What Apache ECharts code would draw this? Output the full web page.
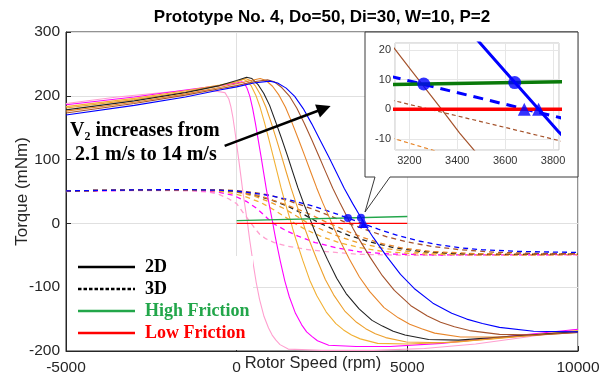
<!DOCTYPE html>
<html><head><meta charset="utf-8">
<script src="https://cdn.jsdelivr.net/npm/echarts@6/dist/echarts.min.js"></script>
<style>html,body{margin:0;padding:0;background:#fff}#c{width:611px;height:379px}</style>
</head><body><div id="c"></div>
<script>
// ---- data (rpm, mNm) ----
const curveNames = ['2.1 m/s','v2','v3','v4','v5','v6','v7','14 m/s'];
const pink2D = [[-5000,188],[-3500,198],[-2000,206],[-1200,209],[-700,208],[-344,205],[-290,202],[-230,195],[-170,183],[-110,166],[-50,144],[10,120],[70,96],[123,74],[178,51],[238,29],[286,12],[320,0],[340,-9],[382,-26],[478,-61],[574,-93],[670,-119],[802,-146],[934,-164],[1040,-175],[1150,-183],[1270,-190],[1510,-197],[2500,-199],[4000,-199],[5500,-196],[7000,-189],[8500,-178],[10000,-166]];
const magenta2D = [[-5000,186],[-3000,198],[-1500,209],[-500,216],[0,220],[148,222],[222,220],[304,212],[387,199],[469,180],[552,156],[634,130],[717,104],[789,80],[865,55],[948,31],[1014,12.7],[1060,0],[1088,-8.7],[1146,-25],[1278,-59],[1410,-90],[1542,-115],[1723,-141],[1905,-159],[2050,-170],[2202,-177],[2367,-184],[2697,-191],[3500,-193],[4500,-193],[6000,-188],[8000,-177],[10000,-166]];
const yellow2D = [[-5000,183],[-3000,196],[-1500,208],[-500,217],[0,222],[190,226],[305,223],[432,215],[560,201],[687,182],[815,158],[942,132],[1070,105],[1182,81],[1299,56],[1427,31],[1529,13],[1600,0],[1643,-8.6],[1733,-24.5],[1937,-58],[2141,-89],[2345,-113],[2625,-139],[2906,-157],[3130,-167],[3365,-175],[3620,-181],[4130,-188],[5000,-189],[6500,-186],[8000,-178],[10000,-168]];
const orange2D = [[-5000,181],[-3000,194],[-1500,206],[-500,216],[0,222],[263,227],[401,224],[553,215],[706,201],[858,182],[1011,158],[1163,132],[1316,105],[1450,81],[1590,56],[1743,31],[1865,13],[1950,0],[2002,-8.5],[2109,-24],[2353,-57],[2597,-88],[2841,-112],[3176,-138],[3512,-155],[3780,-165],[4061,-173],[4366,-179],[4976,-186],[6000,-187],[7500,-181],[10000,-169]];
const black2D = [[-5000,178],[-3000,192],[-1500,205],[-500,216],[0,224],[292,229],[447,227],[620,218],[792,204],[965,185],[1137,160],[1310,134],[1482,107],[1634,82],[1793,56],[1965,31],[2103,13],[2200,0],[2259,-8.3],[2379,-24],[2655,-56],[2931,-86],[3207,-110],[3587,-134],[3966,-152],[4270,-161],[4587,-169],[4932,-175],[5622,-182],[6500,-183],[8000,-177],[10000,-170]];
const darkOrange2D = [[-5000,176],[-3000,190],[-1500,203],[-500,213],[0,219],[689,227],[860,224],[1050,215],[1240,201],[1430,182],[1620,158],[1810,132],[2000,105],[2167,81],[2342,56],[2532,31],[2684,13],[2790,0],[2855,-8.1],[2988,-23],[3292,-55],[3596,-84],[3900,-107],[4318,-132],[4736,-148],[5070,-158],[5420,-165],[5800,-172],[6560,-178],[8000,-178],[10000,-171]];
const brown2D = [[-5000,173],[-3000,188],[-1500,201],[-500,211],[0,216],[500,222],[902,225],[1100,222],[1320,213],[1540,200],[1760,181],[1980,157],[2200,131],[2420,104],[2613,80],[2816,55],[3036,31],[3212,12.7],[3335,0],[3410,-8],[3564,-22.7],[3916,-53.6],[4268,-82],[4620,-105],[5104,-129],[5588,-145],[5975,-155],[6380,-162],[6820,-168],[7700,-174],[8800,-175],[10000,-171]];
const blue2D = [[-5000,170],[-3000,185],[-1500,198],[-500,209],[0,214],[500,220],[975,223],[1200,220],[1450,212],[1700,199],[1950,180],[2200,156],[2450,130],[2700,104],[2920,80],[3150,55],[3400,31],[3600,12.7],[3740,0],[3825,-7.7],[4000,-22],[4400,-52],[4800,-80],[5200,-102],[5750,-125],[6300,-141],[6740,-150],[7200,-157],[7700,-163],[8700,-169],[10000,-170]];

const pink3D = [[-5000,50],[-3000,51.5],[-1800,51.5],[-1200,50.5],[-800,49],[-500,45],[-250,39],[0,31],[200,16],[400,2],[550,-9],[675,-17],[850,-24],[1100,-30],[1500,-36],[2140,-41.5],[2800,-45],[3600,-48.5],[5000,-50],[7500,-50],[10000,-49.5]];
const magenta3D = [[-5000,50.5],[-3000,52],[-1500,52],[-900,51],[-500,48.5],[-100,44],[300,34],[600,23],[900,8],[1100,-1],[1400,-10],[1800,-20],[2300,-30],[2900,-38],[3600,-44.5],[4500,-48],[6000,-49.5],[10000,-49]];
const yellow3D = [[-5000,51],[-3000,52.5],[-1500,52.5],[-800,51.5],[-300,49],[200,43],[700,33],[1100,21],[1450,9],[1700,0],[2000,-9],[2500,-21],[3000,-30],[3600,-38],[4300,-44],[5200,-47.5],[7000,-49.5],[10000,-49]];
const orange3D = [[-5000,51],[-3000,52.5],[-1500,53],[-500,51.5],[0,49],[500,43],[1000,33],[1400,23],[1800,10],[2100,0],[2500,-10],[3000,-20.5],[3600,-31],[4300,-39],[5200,-45],[6500,-48.5],[8000,-49.5],[10000,-48.5]];
const black3D = [[-5000,51],[-3000,52.5],[-1500,53],[-500,52],[0,50],[500,45],[1000,37],[1500,27],[1900,16],[2200,7],[2450,0],[2800,-8.5],[3300,-19],[3900,-29],[4600,-38],[5400,-44],[6500,-47.5],[8000,-48.5],[10000,-48]];
const darkOrange3D = [[-5000,51],[-3000,52.5],[-1500,53],[-500,52],[0,50.5],[700,43],[1300,32],[1800,22],[2200,13],[2500,5],[2750,-0.6],[3000,-6.6],[3300,-13.8],[3700,-22],[4200,-31],[4900,-39],[5700,-44],[7000,-47.5],[10000,-48]];
const brown3D = [[-5000,51],[-3000,52.5],[-1500,53],[-500,52.5],[0,51.5],[500,48.5],[1000,44],[1600,34],[2200,23],[2750,11.5],[3140,2.8],[3600,-6.1],[3900,-12],[4400,-21],[5000,-29],[5700,-36],[6500,-41],[7500,-45],[8700,-47],[10000,-47.5]];
const blue3D = [[-5000,51],[-3000,52.5],[-1500,53],[-500,52],[0,50.5],[500,47.5],[1083,42.5],[1696,35],[2308,26],[2921,15],[3533,3],[4146,-9],[4758,-19.6],[5371,-28],[5983,-34],[6596,-38.5],[7208,-41.4],[8433,-44.2],[10000,-45.5]];

const frictionHigh = [[0,4.2],[5000,10.8]];
const frictionLow = [[0,0],[5000,0]];
const crossCircles = [[3260,8.5],[3640,9.0]];
const crossTriangles = [[3680,0],[3740,0]];
const arrowFromTo = [[-352,121.5],[2560,180]];

const mainXTicks = [-5000,0,5000,10000];
const mainYTicks = [-200,-100,0,100,200,300];
const legendLabels = ['2D','3D','High Friction','Low Friction'];

// ---- styles ----
const curveColors = ['#ff9fcf','#ff00ff','#f2b134','#eda02d','#222222','#e8862a','#a5532c','#0000ff'];
const curves2D = [pink2D,magenta2D,yellow2D,orange2D,black2D,darkOrange2D,brown2D,blue2D];
const curves3D = [pink3D,magenta3D,yellow3D,orange3D,black3D,darkOrange3D,brown3D,blue3D];

const chart = echarts.init(document.getElementById('c'), null, {width:611, height:379});
const tickColor = '#262626';
const plainFmt = v => String(v);
const series = [];
curves3D.forEach((d,i)=>series.push({type:'line', name:curveNames[i]+' 3D', xAxisIndex:0, yAxisIndex:0, data:d, symbol:'none', silent:true, z:2,
  lineStyle:{color:curveColors[i], width:1.3, type:[5,4]}}));
curves2D.forEach((d,i)=>series.push({type:'line', name:curveNames[i]+' 2D', xAxisIndex:0, yAxisIndex:0, data:d, symbol:'none', silent:true, z:2,
  lineStyle:{color:curveColors[i], width:1.1}}));
series.push({type:'line', name:'High Friction', xAxisIndex:0, yAxisIndex:0, data:frictionHigh, symbol:'none', silent:true, z:3, lineStyle:{color:'#22a64a', width:1.3}});
series.push({type:'line', name:'Low Friction', xAxisIndex:0, yAxisIndex:0, data:frictionLow, symbol:'none', silent:true, z:3, lineStyle:{color:'#ff0000', width:1.3}});
series.push({type:'scatter', name:'m1', xAxisIndex:0, yAxisIndex:0, data:crossCircles, symbol:'circle', symbolSize:8, itemStyle:{color:'#0000ff'}, z:4, silent:true});
series.push({type:'scatter', name:'m2', xAxisIndex:0, yAxisIndex:0, data:crossTriangles, symbol:'triangle', symbolSize:9, itemStyle:{color:'#0000ff'}, z:4, silent:true});
series.push({type:'line', name:'arrow', xAxisIndex:0, yAxisIndex:0, data:[], symbol:'none', z:5,
  markLine:{silent:true, symbol:['none','triangle'], symbolSize:14, label:{show:false}, animation:false,
    lineStyle:{color:'#000', width:2.6, type:'solid'},
    data:[[{coord:arrowFromTo[0]},{coord:arrowFromTo[1]}]]}});
// inset
const ins = {xAxisIndex:1, yAxisIndex:1, symbol:'none', silent:true, z:6};
series.push(Object.assign({type:'line', name:'i-o3', data:darkOrange3D, lineStyle:{color:'#e8862a', width:1.2, type:[4,3]}}, ins));
series.push(Object.assign({type:'line', name:'i-b3', data:brown3D, lineStyle:{color:'#a5532c', width:1.2, type:[4,3]}}, ins));
series.push(Object.assign({type:'line', name:'i-b2', data:brown2D, lineStyle:{color:'#a5532c', width:1.2}}, ins));
series.push(Object.assign({type:'line', name:'i-bl3', data:blue3D, lineStyle:{color:'#0000ff', width:3, type:[10,7]}}, ins));
series.push(Object.assign({type:'line', name:'i-g', data:frictionHigh, lineStyle:{color:'#0a7a0a', width:3.5}}, ins));
series.push(Object.assign({type:'line', name:'i-r', data:frictionLow, lineStyle:{color:'#ff0000', width:3.5}}, ins));
series.push(Object.assign({type:'line', name:'i-bl2', data:blue2D, lineStyle:{color:'#0000ff', width:3}}, ins));
series.push({type:'scatter', name:'i-m1', xAxisIndex:1, yAxisIndex:1, data:crossCircles, symbol:'circle', symbolSize:13, itemStyle:{color:'#0000ff'}, z:7, silent:true});
series.push({type:'scatter', name:'i-m2', xAxisIndex:1, yAxisIndex:1, data:crossTriangles, symbol:'triangle', symbolSize:13, itemStyle:{color:'#0000ff'}, z:7, silent:true});

const legendColors = ['#000','#000','#22a64a','#ff0000'];
const legendDash = [null,[3.5,2],null,null];
const legendRows = [267,289,311,333];
const legendGraphics = [{type:'rect', z:3, silent:true, shape:{x:67, y:256, width:186, height:94}, style:{fill:'#fff'}}];
legendLabels.forEach((t,i)=>{
  legendGraphics.push({type:'line', z:4, silent:true, shape:{x1:78, y1:legendRows[i], x2:135, y2:legendRows[i]},
    style:{stroke:legendColors[i], lineWidth:2.5, lineDash:legendDash[i]}});
  legendGraphics.push({type:'text', z:4, silent:true, style:{x:145, y:legendRows[i], text:t, fill:legendColors[i],
    font:'bold 18px "Liberation Serif"', align:'left', verticalAlign:'middle'}});
});

const option = {
  animation:false,
  backgroundColor:'#fff',
  grid:[
    {left:66, right:33, top:32, bottom:28, show:true, borderColor:'#262626', borderWidth:1, z:0, containLabel:false, outerBoundsMode:'none'},
    {left:395, top:43, width:164, height:107, show:true, borderColor:'#c4c4c4', borderWidth:1, backgroundColor:'#fff', z:2, containLabel:false, outerBoundsMode:'none'}
  ],
  xAxis:[
    {gridIndex:0, type:'value', min:mainXTicks[0], max:mainXTicks[mainXTicks.length-1], interval:5000,
      name:'Rotor Speed (rpm)', nameLocation:'middle', nameGap:4, nameMoveOverlap:false,
      nameTextStyle:{fontFamily:'Liberation Sans', fontSize:16.5, color:tickColor, padding:[0,18,0,0]},
      axisLine:{show:true, onZero:false, lineStyle:{color:tickColor}}, axisTick:{show:true, inside:true, length:5, lineStyle:{color:tickColor}},
      axisLabel:{fontFamily:'Liberation Sans', fontSize:15.5, color:tickColor, margin:9, formatter:plainFmt, hideOverlap:false},
      splitLine:{show:true, lineStyle:{color:'#e0e0e0', width:1}}},
    {gridIndex:1, type:'value', min:3140, max:3825, splitNumber:3, z:3,
      axisLine:{show:false, onZero:false}, axisTick:{show:false},
      axisLabel:{fontFamily:'Liberation Sans', fontSize:11, color:'#333', margin:5, showMinLabel:false, showMaxLabel:false, formatter:plainFmt},
      splitLine:{show:true, lineStyle:{color:'#e6e6e6', width:1}}}
  ],
  yAxis:[
    {gridIndex:0, type:'value', min:mainYTicks[0], max:mainYTicks[mainYTicks.length-1], interval:100,
      name:'Torque (mNm)', nameLocation:'middle', nameGap:35, nameRotate:90, nameMoveOverlap:false,
      nameTextStyle:{fontFamily:'Liberation Sans', fontSize:17, color:tickColor},
      axisLine:{show:true, onZero:false, lineStyle:{color:tickColor}}, axisTick:{show:true, inside:true, length:5, lineStyle:{color:tickColor}},
      axisLabel:{fontFamily:'Liberation Sans', fontSize:15.5, color:tickColor, margin:6, formatter:plainFmt},
      splitLine:{show:true, lineStyle:{color:'#e0e0e0', width:1}}},
    {gridIndex:1, type:'value', min:-13.7, max:22.3, splitNumber:4, z:3,
      axisLine:{show:false, onZero:false}, axisTick:{show:false},
      axisLabel:{fontFamily:'Liberation Sans', fontSize:11, color:'#333', margin:4, showMinLabel:false, showMaxLabel:false, formatter:plainFmt},
      splitLine:{show:true, lineStyle:{color:'#e6e6e6', width:1}}}
  ],
  graphic:[
    {type:'polygon', z:1, silent:true,
      shape:{points:[[365,32],[578,32],[578,177],[390,177],[365,212],[375,177],[365,177]]},
      style:{fill:'#fff', stroke:'#3a3a3a', lineWidth:1}},
    {type:'text', z:10, silent:true, style:{x:322, y:17, text:'Prototype No. 4, Do=50, Di=30, W=10, P=2', fill:'#000',
      font:'bold 17px "Liberation Sans"', align:'center', verticalAlign:'middle'}},
    {type:'text', z:10, silent:true, style:{x:70, y:131, text:'V\u2082 increases from', fill:'#000',
      font:'bold 20px "Liberation Serif"', align:'left', verticalAlign:'middle'}},
    {type:'text', z:10, silent:true, style:{x:75, y:155, text:'2.1 m/s to 14 m/s', fill:'#000',
      font:'bold 20px "Liberation Serif"', align:'left', verticalAlign:'middle'}}
  ].concat(legendGraphics),
  series:series
};
chart.setOption(option);
</script></body></html>
